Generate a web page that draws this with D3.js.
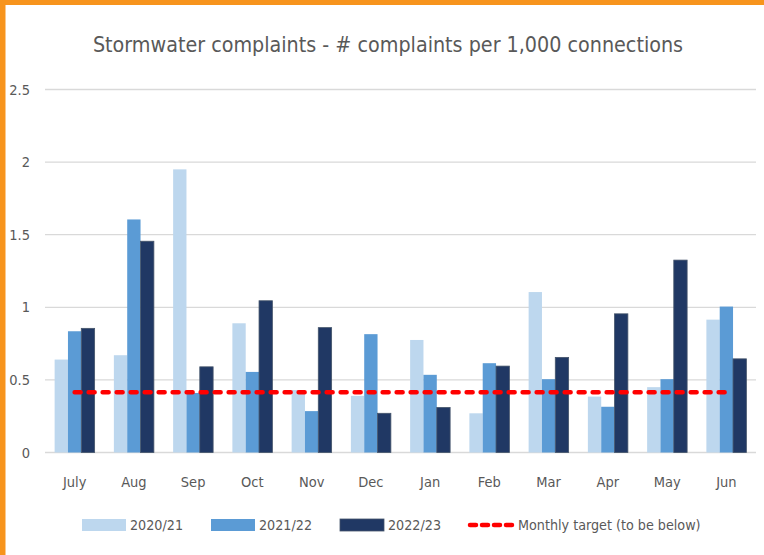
<!DOCTYPE html>
<html><head><meta charset="utf-8">
<script src="https://cdn.jsdelivr.net/npm/d3@7"></script>
<style>html,body{margin:0;padding:0;background:#fff;overflow:hidden}</style>
</head><body>
<svg id="c" width="764" height="555"></svg>
<script>
const months = ["July","Aug","Sep","Oct","Nov","Dec","Jan","Feb","Mar","Apr","May","Jun"];
const seriesNames = ["2020/21","2021/22","2022/23"];
const s2020 = [0.64,0.67,1.95,0.89,0.43,0.39,0.775,0.27,1.105,0.385,0.45,0.915];
const s2021 = [0.835,1.605,0.41,0.555,0.285,0.815,0.535,0.615,0.505,0.315,0.505,1.005];
const s2022 = [0.855,1.455,0.59,1.045,0.86,0.27,0.31,0.595,0.655,0.955,1.325,0.645];
const target = 0.415;
const targetName = "Monthly target (to be below)";
const yTicks = [0,0.5,1,1.5,2,2.5];
const yTickLabels = ["0","0.5","1","1.5","2","2.5"];
const title = "Stormwater complaints - # complaints per 1,000 connections";

const colors = ["#BDD7EE","#5B9BD5","#203864"];
const strokes = ["none","none","#44546A"];
const font = "'DejaVu Sans Condensed','Noto Sans',sans-serif";
const txt = "#595959";

const svg = d3.select("#c");
svg.append("rect").attr("width",764).attr("height",555).attr("fill","#fff");
svg.append("rect").attr("x",0).attr("y",0).attr("width",764).attr("height",5).attr("fill","#F7941D");
svg.append("rect").attr("x",0).attr("y",0).attr("width",5.5).attr("height",555).attr("fill","#F7941D");

const L=45, R=756, T=89.5, B=452.5;
const x0 = d3.scaleBand().domain(months).range([L,R]).paddingInner(0.325).paddingOuter(0.1625);
const x1 = d3.scaleBand().domain(seriesNames).range([0,x0.bandwidth()]).padding(0);
const y = d3.scaleLinear().domain([0,2.5]).range([B,T]);

// gridlines
svg.append("g").selectAll("line").data(yTicks).join("line")
  .attr("x1",L).attr("x2",R).attr("y1",d=>y(d)).attr("y2",d=>y(d))
  .attr("stroke","#D9D9D9").attr("stroke-width",1.3);

// y labels
svg.append("g").selectAll("text").data(yTicks).join("text")
  .attr("x",30).attr("y",d=>y(d)).attr("dy","0.35em").attr("text-anchor","end")
  .attr("font-family",font).attr("font-size",14.5).attr("fill",txt)
  .text((d,i)=>yTickLabels[i]);

// bars
const allSeries = [s2020,s2021,s2022];
const rows = months.map((m,i)=>({m, vals: allSeries.map((s,k)=>({k,name:seriesNames[k],v:s[i]}))}));
const g = svg.append("g").selectAll("g").data(rows).join("g")
  .attr("transform",d=>`translate(${x0(d.m)},0)`);
g.selectAll("rect").data(d=>d.vals).join("rect")
  .attr("x",d=>x1(d.name)).attr("width",x1.bandwidth())
  .attr("y",d=>y(d.v)).attr("height",d=>B-y(d.v))
  .attr("fill",d=>colors[d.k])
  .attr("stroke",d=>strokes[d.k]).attr("stroke-width",0.8);

// x labels
svg.append("g").selectAll("text").data(months).join("text")
  .attr("x",d=>x0(d)+x0.bandwidth()/2).attr("y",487)
  .attr("text-anchor","middle").attr("font-family",font).attr("font-size",14.5).attr("fill",txt)
  .text(d=>d);

// target line
const tl = d3.line().x(d=>x0(d)+x0.bandwidth()/2).y(()=>y(target));
svg.append("path").attr("d",tl([months[0],months[months.length-1]]))
  .attr("fill","none").attr("stroke","#FF0000").attr("stroke-width",4.5)
  .attr("stroke-dasharray","6 8").attr("stroke-linecap","round");

// title
svg.append("text").attr("x",388).attr("y",52).attr("text-anchor","middle")
  .attr("font-family",font).attr("font-size",21.3).attr("fill",txt).text(title);

// legend
const lg = svg.append("g");
const legX = [82,211,340];
seriesNames.forEach((n,k)=>{
  lg.append("rect").attr("x",legX[k]).attr("y",519).attr("width",44).attr("height",12)
    .attr("fill",colors[k]).attr("stroke",strokes[k]).attr("stroke-width",0.8);
  lg.append("text").attr("x",legX[k]+48).attr("y",525).attr("dy","0.35em")
    .attr("font-family",font).attr("font-size",14.2).attr("fill",txt).text(n);
});
lg.append("line").attr("x1",470).attr("x2",513).attr("y1",525).attr("y2",525)
  .attr("stroke","#FF0000").attr("stroke-width",4.5).attr("stroke-dasharray","6 6").attr("stroke-linecap","round");
lg.append("text").attr("x",518).attr("y",525).attr("dy","0.35em")
  .attr("font-family",font).attr("font-size",14.2).attr("fill",txt).text(targetName);
</script>
</body></html>
